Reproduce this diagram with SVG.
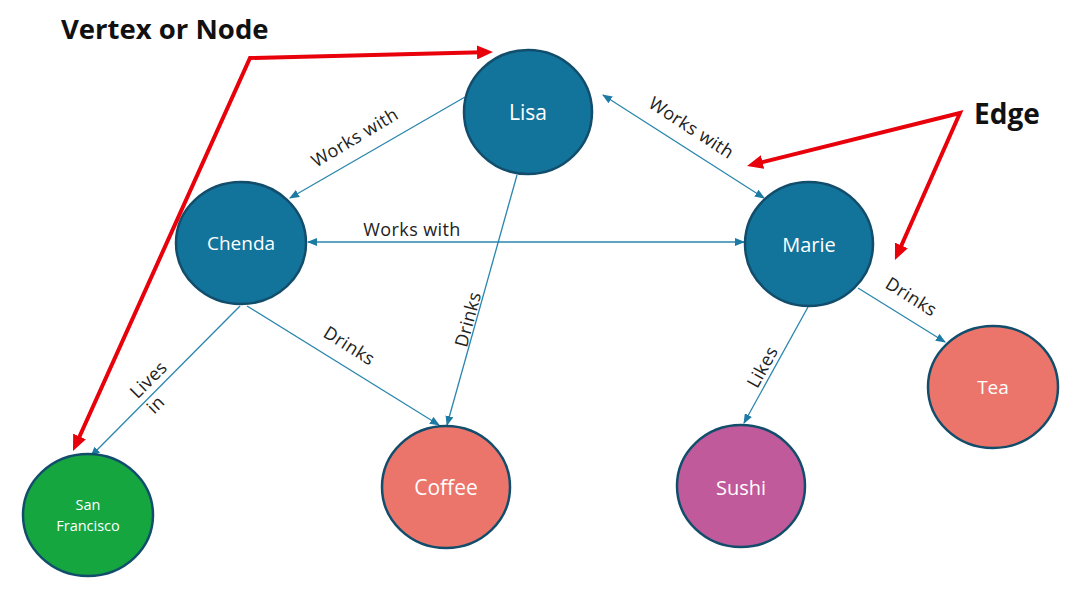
<svg xmlns="http://www.w3.org/2000/svg" width="1080" height="593" viewBox="0 0 1080 593">
<defs>
<style>
.node{stroke:#124e6c;stroke-width:2.5}
.blue{fill:#12739b}
.coral{fill:#ec756b}
.green{fill:#15a63f}
.pink{fill:#c15a9b}
.nl{font-family:"Open Sans","Liberation Sans",sans-serif;fill:#fff;text-anchor:middle;dominant-baseline:central}
.el{font-family:"Open Sans","Liberation Sans",sans-serif;font-size:18px;letter-spacing:0.4px;fill:#222;text-anchor:middle}
.edge{stroke:#2a86ad;stroke-width:1.3;fill:none}
.red{stroke:#e8000b;stroke-width:4;fill:none;stroke-linejoin:miter}
.title{font-family:"Open Sans","Liberation Sans",sans-serif;font-weight:bold;fill:#111}
</style>
<marker id="ab" viewBox="0 0 10 8" markerWidth="10" markerHeight="8" refX="9" refY="4" orient="auto-start-reverse" markerUnits="userSpaceOnUse"><path d="M0,0 L10,4 L0,8 z" fill="#1c7aa3"/></marker>
<marker id="ar" viewBox="0 0 16 14" markerWidth="16" markerHeight="14" refX="5" refY="7" orient="auto-start-reverse" markerUnits="userSpaceOnUse"><path d="M0,0 L16,7 L0,14 z" fill="#e8000b"/></marker>
</defs>
<rect width="1080" height="593" fill="#fff"/>
<g id="connectors">
<line class="edge" x1="465" y1="97" x2="290" y2="198" marker-end="url(#ab)"/>
<line class="edge" x1="603" y1="95" x2="764" y2="198" marker-start="url(#ab)" marker-end="url(#ab)"/>
<line class="edge" x1="308" y1="242" x2="744" y2="242" marker-start="url(#ab)" marker-end="url(#ab)"/>
<line class="edge" x1="517" y1="175" x2="447" y2="425" marker-end="url(#ab)"/>
<line class="edge" x1="247" y1="306" x2="439" y2="425" marker-end="url(#ab)"/>
<line class="edge" x1="240" y1="306" x2="91" y2="456" marker-end="url(#ab)"/>
<line class="edge" x1="808" y1="307" x2="744" y2="423" marker-end="url(#ab)"/>
<line class="edge" x1="858" y1="288" x2="945" y2="342" marker-end="url(#ab)"/>
<text class="el" transform="translate(358,143) rotate(-31)">Works with</text>
<text class="el" transform="translate(688,133) rotate(33)">Works with</text>
<text class="el" x="412" y="236">Works with</text>
<text class="el" transform="translate(474,321) rotate(-75)">Drinks</text>
<text class="el" transform="translate(346,351) rotate(32)">Drinks</text>
<text class="el" transform="translate(153,384) rotate(-45)">Lives</text>
<text class="el" transform="translate(160,409) rotate(-45)">in</text>
<text class="el" transform="translate(768,370) rotate(-61)">Likes</text>
<text class="el" transform="translate(908,302) rotate(32)">Drinks</text>
</g>
<g id="node-lisa"><ellipse class="node blue" cx="528" cy="112" rx="64" ry="62"/><text class="nl" x="528" y="112" style="font-size:21px">Lisa</text></g>
<g id="node-chenda"><ellipse class="node blue" cx="241" cy="243" rx="65" ry="61"/><text class="nl" x="241" y="243" style="font-size:19px">Chenda</text></g>
<g id="node-marie"><ellipse class="node blue" cx="809" cy="244" rx="64" ry="62"/><text class="nl" x="809" y="244" style="font-size:20px">Marie</text></g>
<g id="node-sf"><ellipse class="node green" cx="88" cy="515" rx="65" ry="61"/><text class="nl" x="88" y="504" style="font-size:14.5px">San</text><text class="nl" x="88" y="525" style="font-size:14.5px">Francisco</text></g>
<g id="node-coffee"><ellipse class="node coral" cx="446" cy="487" rx="64" ry="61"/><text class="nl" x="446" y="487" style="font-size:21px">Coffee</text></g>
<g id="node-sushi"><ellipse class="node pink" cx="741" cy="486" rx="64" ry="61"/><text class="nl" x="741" y="487" style="font-size:20px">Sushi</text></g>
<g id="node-tea"><ellipse class="node coral" cx="993" cy="387" rx="65" ry="61"/><text class="nl" x="993" y="387" style="font-size:19px">Tea</text></g>
<g id="annotations">
<text class="title" x="61" y="39" style="font-size:27.5px">Vertex or Node</text>
<text class="title" x="974" y="124" style="font-size:28px">Edge</text>
<polyline class="red" points="482,52.3 250,58 77.5,441" marker-start="url(#ar)" marker-end="url(#ar)"/>
<polyline class="red" points="757.7,163.3 960,113 899.4,250" marker-start="url(#ar)" marker-end="url(#ar)"/>
</g>
</svg>
